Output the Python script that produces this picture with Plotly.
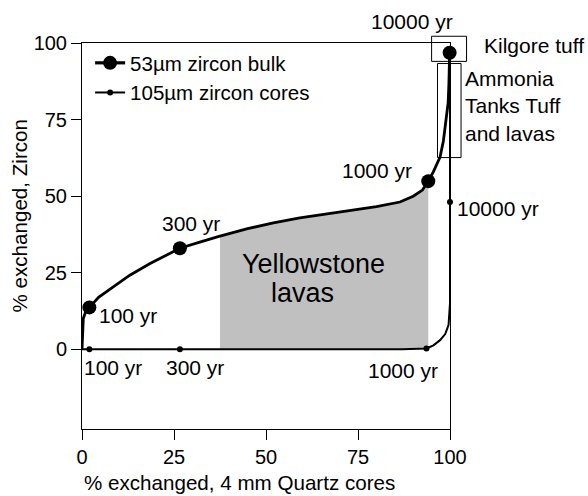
import numpy as np
import plotly.graph_objects as go

# ---------------- data ----------------
bulk_x = [0, 0.1, 0.35, 1.0, 2.0, 4.5, 8.5, 13.0, 18.5, 23.0, 26.6, 32.0, 37.0, 45.0, 52.0,
          59.2, 66.0, 73.0, 80.0, 86.4, 90.0, 92.5, 94.1, 95.5, 96.5, 97.3, 98.2, 99.1, 99.5, 99.7, 99.9]
bulk_y = [0, 4.0, 10.1, 12.3, 13.7, 17.0, 20.4, 24.2, 28.0, 30.9, 33.0, 35.0, 36.8, 39.4, 41.3,
          42.9, 44.1, 45.3, 46.6, 48.1, 50.0, 52.0, 54.9, 58.0, 60.5, 62.8, 68.0, 75.8, 80.5, 86.7, 96.8]
bulk_pts_x = [2.0, 26.6, 94.1, 99.9]
bulk_pts_y = [13.7, 33.0, 54.9, 96.8]

cores_x = [0, 2.0, 26.6, 60.0, 87.0, 93.6, 95.5, 97.3, 98.7, 99.6, 100.0, 100.0, 100.0]
cores_y = [0, 0, 0, 0, 0, 0.3, 1.3, 3.0, 5.0, 7.9, 15.0, 48.1, 99.0]
cores_pts_x = [2.0, 26.6, 93.6, 100.0]
cores_pts_y = [0, 0, 0.3, 48.1]

shade_range = [37.5, 94.1]

x_ticks = [0, 25, 50, 75, 100]
y_ticks = [0, 25, 50, 75, 100]
x_range = [0, 100]
y_range = [-26, 100]

series_names = ["53\u00b5m zircon bulk", "105\u00b5m zircon cores"]
x_title = "% exchanged, 4 mm Quartz cores"
y_title = "% exchanged, Zircon"

# labels: text, x, y, xanchor
labels = [
    ("10000 yr", 89.6, 107.0, "center"),
    ("1000 yr", 80.1, 58.5, "center"),
    ("10000 yr", 101.4, 46.1, "left"),
    ("300 yr", 29.5, 41.2, "center"),
    ("100 yr", 4.1, 11.2, "left"),
    ("100 yr", 0.0, -5.9, "left"),
    ("300 yr", 30.7, -5.9, "center"),
    ("1000 yr", 87.2, -7.0, "center"),
    ("Kilgore tuff", 108.7, 99.2, "left"),
    ("Ammonia<br>Tanks Tuff<br>and lavas", 103.5, 79.3, "left"),
]
region_labels = [("Yellowstone", 63.0, 27.8), ("lavas", 59.9, 18.5)]
boxes = [(95.0, 94.0, 104.5, 102.2), (96.6, 62.6, 103.0, 93.3)]

FONT = "Liberation Sans, Arial, Helvetica, sans-serif"


def px(x):
    return (x - x_range[0]) / (x_range[1] - x_range[0])


def py(y):
    return (y - y_range[0]) / (y_range[1] - y_range[0])


# shaded region under the bulk curve
bx = np.array(bulk_x)
by = np.array(bulk_y)
inside = (bx > shade_range[0]) & (bx < shade_range[1])
sx = [shade_range[0]] + list(bx[inside]) + [shade_range[1]]
sy = [float(np.interp(shade_range[0], bx, by))] + list(by[inside]) + [float(np.interp(shade_range[1], bx, by))]
poly_x = sx + [shade_range[1], shade_range[0]]
poly_y = sy + [0, 0]

fig = go.Figure()
fig.add_trace(go.Scatter(x=poly_x, y=poly_y, fill="toself", fillcolor="#c0c0c0",
                         line=dict(width=0), mode="lines", showlegend=False, hoverinfo="skip"))

# legend-only entries
fig.add_trace(go.Scatter(x=[None], y=[None], mode="lines+markers", name=series_names[0],
                         line=dict(color="black", width=3.2), marker=dict(color="black", size=14)))
fig.add_trace(go.Scatter(x=[None], y=[None], mode="lines+markers", name=series_names[1],
                         line=dict(color="black", width=2), marker=dict(color="black", size=6)))

fig.add_trace(go.Scatter(x=cores_x, y=cores_y, mode="lines", line=dict(color="black", width=2),
                         showlegend=False))
fig.add_trace(go.Scatter(x=bulk_x, y=bulk_y, mode="lines", line=dict(color="black", width=2.8),
                         showlegend=False))
fig.add_trace(go.Scatter(x=cores_pts_x, y=cores_pts_y, mode="markers",
                         marker=dict(color="black", size=6), showlegend=False, cliponaxis=False))
fig.add_trace(go.Scatter(x=bulk_pts_x, y=bulk_pts_y, mode="markers",
                         marker=dict(color="black", size=14), showlegend=False, cliponaxis=False))

annotations = []
for text, x, y, xa in labels:
    annotations.append(dict(text=text, x=px(x), y=py(y), xref="paper", yref="paper",
                            xanchor=xa, yanchor="middle", showarrow=False, align="left",
                            font=dict(size=21, color="black", family=FONT)))
for text, x, y in region_labels:
    annotations.append(dict(text=text, x=x, y=y, xref="x", yref="y", xanchor="center",
                            yanchor="middle", showarrow=False,
                            font=dict(size=27, color="black", family=FONT)))
# axis titles
annotations.append(dict(text=x_title, x=0.0, y=-53 / 386, xref="paper", yref="paper",
                        xanchor="left", yanchor="middle", showarrow=False,
                        font=dict(size=20.6, color="black", family=FONT)))
annotations.append(dict(text=y_title, x=-63 / 368, y=(429 - 216.5) / 386, xref="paper", yref="paper",
                        xanchor="center", yanchor="middle", showarrow=False, textangle=-90,
                        font=dict(size=20.6, color="black", family=FONT)))

shapes = []
for x0, y0, x1, y1 in boxes:
    shapes.append(dict(type="rect", xref="paper", yref="paper", x0=px(x0), y0=py(y0),
                       x1=px(x1), y1=py(y1), line=dict(color="black", width=1),
                       fillcolor="rgba(0,0,0,0)"))

axis_common = dict(showgrid=False, zeroline=False, showline=True, mirror=True,
                   linecolor="black", linewidth=1, ticks="outside", ticklen=10,
                   tickwidth=1, tickcolor="black",
                   tickfont=dict(size=20, color="black", family=FONT))

fig.update_layout(
    width=588, height=496,
    margin=dict(l=82, r=138, t=43, b=67),
    paper_bgcolor="white", plot_bgcolor="white",
    font=dict(family=FONT, color="black"),
    xaxis=dict(range=x_range, tickvals=x_ticks, **axis_common),
    yaxis=dict(range=y_range, tickvals=y_ticks, **axis_common),
    legend=dict(x=0.022, y=1.0, xanchor="left", yanchor="top", bgcolor="rgba(0,0,0,0)",
                font=dict(size=20.5, color="black", family=FONT), tracegroupgap=0),
    annotations=annotations,
    shapes=shapes,
)

fig.write_html("out.html", config={"displayModeBar": False},
               post_script="document.body.style.margin='0';document.body.style.overflow='hidden';")
